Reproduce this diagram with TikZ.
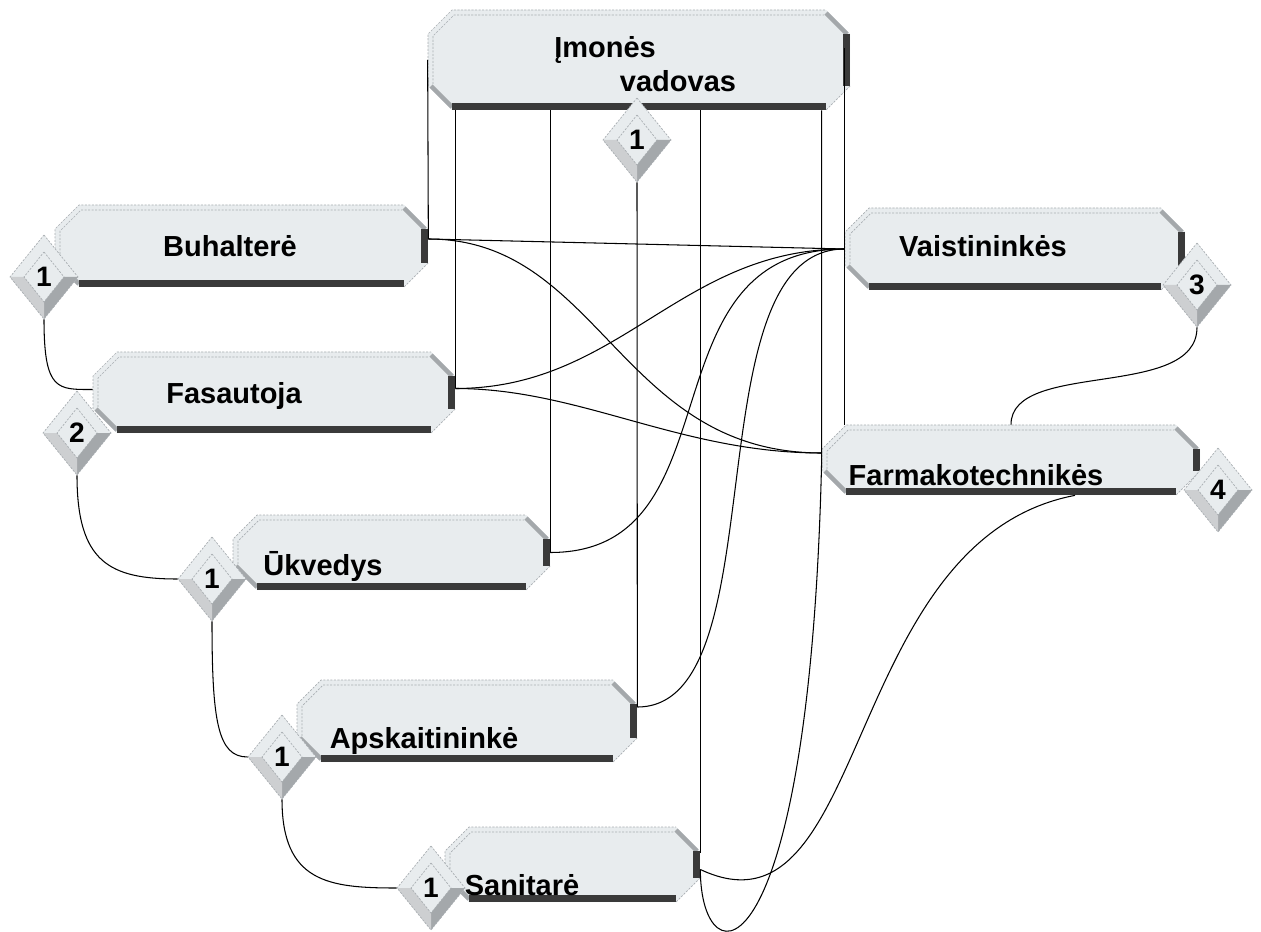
\documentclass[tikz,border=0pt]{standalone}
\usepackage{fontspec}
\setmainfont{Liberation Sans}
\usetikzlibrary{calc,fit,shapes.geometric}

\definecolor{platefill}{HTML}{E8ECEE}
\definecolor{rimcol}{HTML}{A9AEB2}
\definecolor{bevelcol}{HTML}{A4A8AB}
\definecolor{barcol}{HTML}{3A3A3A}

\tikzset{
  rim/.style={rimcol, line width=0.4pt, dash pattern=on 1.2pt off 0.8pt},
  bevel/.style={bevelcol, line width=2.6pt},
  darkbar/.style={barcol, line width=4pt},
  link/.style={black, line width=0.6pt},
  lbl/.style={inner sep=0pt, anchor=base, font=\fontsize{16.5}{18}\selectfont\bfseries},
  badge/.style={diamond, inner sep=0pt, minimum width=1.36cm, minimum height=1.68cm,
    font=\fontsize{16}{18}\selectfont\bfseries}
}

% #1 name, #2 left, #3 top, #4 right, #5 bottom
\newcommand{\plate}[5]{%
  \coordinate (#1-nw) at (#2,#3);
  \coordinate (#1-se) at (#4,#5);
  \node[fit=(#1-nw)(#1-se), inner sep=0pt] (#1) {};
  \fill[platefill] (#2+24,#3) -- (#4-24,#3) -- (#4,#3+24) -- (#4,#5-24) -- (#4-24,#5)
    -- (#2+24,#5) -- (#2,#5-24) -- (#2,#3+24) -- cycle;
  \draw[rim] (#2,#5-24) -- (#2,#3+24) -- (#2+24,#3) -- (#4-24,#3);
  \draw[rim] (#2+5,#5-26) -- (#2+5,#3+26) -- (#2+26,#3+5) -- (#4-26,#3+5);
  \draw[rim] (#4,#5-24) -- (#4-24,#5);
  \draw[bevel] (#4-24,#3+3) -- (#4-3,#3+24);
  \draw[bevel] (#2+3,#5-24) -- (#2+24,#5-3);
  \draw[darkbar] (#2+24,#5-3.5) -- (#4-24,#5-3.5);
  \draw[darkbar] (#4-3.5,#3+24) -- (#4-3.5,#5-24);
}

% #1 name, #2 x, #3 y, #4 number
\newcommand{\badgebox}[4]{%
  \fill[platefill] (#2,#3-42) -- (#2+34,#3) -- (#2,#3+42) -- (#2-34,#3) -- cycle;
  \fill[bevelcol] (#2+34,#3) -- (#2,#3+42) -- (#2,#3+25) -- (#2+20,#3) -- cycle;
  \fill[bevelcol!55] (#2,#3+42) -- (#2-34,#3) -- (#2-20,#3) -- (#2,#3+25) -- cycle;
  \draw[rim] (#2,#3-42) -- (#2+34,#3) -- (#2,#3+42) -- (#2-34,#3) -- cycle;
  \draw[rim] (#2,#3-25) -- (#2+20,#3) -- (#2,#3+25) -- (#2-20,#3) -- cycle;
  \node[badge] (#1) at (#2,#3) {#4};
}

\begin{document}
\begin{tikzpicture}[x=0.02cm, y=-0.02cm]
\useasboundingbox (0,0) rectangle (1261,932);

\plate{vad}{428}{10}{850}{110}
\plate{buh}{55}{205}{428}{287}
\plate{fas}{93}{352}{455}{433}
\plate{vai}{845}{208}{1185}{290}
\plate{far}{822}{425}{1200}{495}
\plate{ukv}{233}{515}{550}{590}
\plate{aps}{297}{680}{637}{762}
\plate{san}{445}{827}{700}{902}

\node[lbl] (vadtxt) at (605,58) {Įmonės};
\node[lbl] (vadtxt2) at (678,92) {vadovas};
\node[lbl] (buhtxt) at (230,257) {Buhalterė};
\node[lbl] (fastxt) at (234,403) {Fasautoja};
\node[lbl] (vaitxt) at (983,257) {Vaistininkės};
\node[lbl] (fartxt) at (976,485) {Farmakotechnikės};
\node[lbl] (ukvtxt) at (323,575) {Ūkvedys};
\node[lbl] (apstxt) at (424,748) {Apskaitininkė};
\node[lbl] (santxt) at (522,895) {Sanitarė};

\badgebox{dvad}{637}{140}{1}
\badgebox{dbuh}{44}{277}{1}
\badgebox{dfas}{77}{433}{2}
\badgebox{dukv}{212}{579}{1}
\badgebox{daps}{282}{757}{1}
\badgebox{dsan}{431}{888}{1}
\badgebox{dvai}{1197}{285}{3}
\badgebox{dfar}{1218}{490}{4}

\coordinate (buh-p) at ($(buh.east)+(0,-7)$);
\coordinate (fas-p) at ($(fas.east)+(0,-4)$);
\coordinate (aps-p) at ($(aps.east)+(0,-14)$);
\coordinate (san-p) at ($(san.east)+(0,5)$);
\coordinate (far-p) at ($(far.west)+(0,-7)$);

% lines down from the head
\draw[link] (vad.west) -- (buh-p);
\draw[link] (vad.south -| fas-p) -- (fas-p);
\draw[link] (vad.south -| ukv.east) -- (ukv.east);
\draw[link] (dvad.south) -- (aps-p);
\draw[link] (vad.south -| san.east) -- ($(san.east)+(0,-12)$);
\draw[link] ($(vad.east -| vai.west)+(0,-12)$) -- (vai.west |- far.north);
\draw[link] (vad.south -| far.west) -- (far.west)
  .. controls +(-12,525) and +(0,115) .. (san-p);

% cross links
\draw[link] (buh-p) -- (vai.west);
\draw[link] (buh-p) .. controls +(172,0) and +(-202,0) .. (far-p);
\draw[link] (fas-p) .. controls +(165,0) and +(-165,0) .. (vai.west);
\draw[link] (fas-p) .. controls +(125,0) and +(-142,0) .. (far-p);
\draw[link] (vai.west) .. controls +(-205,0) and +(190,0) .. (ukv.east);
\draw[link] (vai.west) .. controls +(-155,0) and +(143,0) .. (aps-p);
\draw[link] ($(far.south)+(64,0)$) .. controls +(-235,45) and +(170,80) .. (san-p);
\draw[link] (dvai.south) .. controls +(0,73) and +(0,-65) .. (far.north);

% chain of counters
\draw[link] (dbuh.south) .. controls +(0,72) and +(-35,0) .. ($(fas.west)+(0,-3)$);
\draw[link] (dfas.south) .. controls +(0,87) and +(-68,0) .. (dukv.west);
\draw[link] (dukv.south) .. controls +(0,100) and +(-30,0) .. (daps.west);
\draw[link] (daps.south) .. controls +(0,83) and +(-68,0) .. (dsan.west);
\end{tikzpicture}
\end{document}
